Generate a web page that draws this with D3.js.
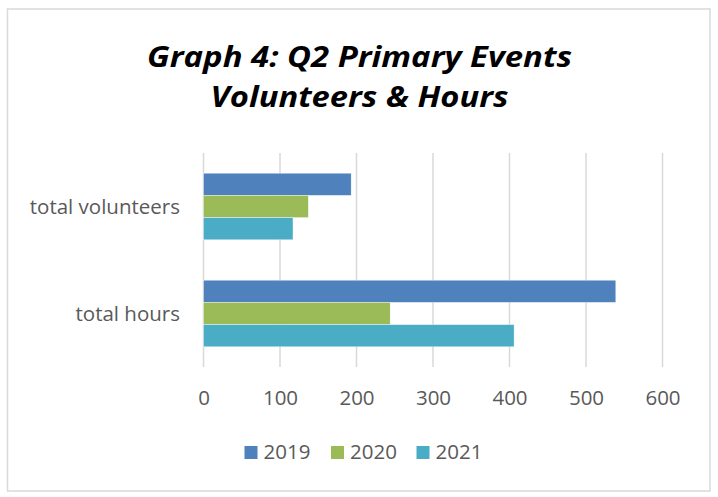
<!DOCTYPE html>
<html>
<head>
<meta charset="utf-8">
<script src="https://cdn.jsdelivr.net/npm/d3@7"></script>
<style>
  body { margin: 0; background: #fff; }
  svg { display: block; }
  text { font-family: "Open Sans", "Liberation Sans", sans-serif; }
</style>
</head>
<body>
<svg id="chart"></svg>
<script>
const WIDTH = 718;
const HEIGHT = 497;

// chart data
const categories = ["total volunteers", "total hours"];
const years = ["2019", "2020", "2021"];
const values2019 = [193, 539];
const values2020 = [137, 244];
const values2021 = [117, 406];
const xTicks = [0, 100, 200, 300, 400, 500, 600];
const titleLines = ["Graph 4: Q2 Primary Events", "Volunteers & Hours"];

const seriesValues = [values2019, values2020, values2021];
const colors = ["#4F81BD", "#9BBB59", "#4BACC6"];

const svg = d3.select("#chart")
    .attr("width", WIDTH)
    .attr("height", HEIGHT);

svg.append("rect")
    .attr("width", WIDTH).attr("height", HEIGHT)
    .attr("fill", "#fff");

// outer border
svg.append("rect")
    .attr("x", 7.5).attr("y", 9)
    .attr("width", 702.5).attr("height", 482)
    .attr("fill", "none")
    .attr("stroke", "#d9d9d9")
    .attr("stroke-width", 1.5);

// title
const titleWidths = [425, 298];
svg.append("g").selectAll("text")
    .data(titleLines)
    .join("text")
    .attr("x", 359.5)
    .attr("y", (d, i) => 66.5 + i * 40)
    .attr("text-anchor", "middle")
    .attr("font-size", 29)
    .attr("font-weight", "bold")
    .attr("font-style", "italic")
    .attr("fill", "#000")
    .attr("textLength", (d, i) => titleWidths[i])
    .attr("lengthAdjust", "spacingAndGlyphs")
    .text(d => d);

const margin = { left: 203.5, right: 718 - 662.5, top: 153, bottom: 497 - 367 };

const x = d3.scaleLinear()
    .domain([0, 600])
    .range([margin.left, WIDTH - margin.right]);

const y = d3.scaleBand()
    .domain(categories)
    .range([margin.top, HEIGHT - margin.bottom])
    .paddingInner(0.377)
    .paddingOuter(0.377 / 2);

const ySub = d3.scaleBand()
    .domain(years)
    .range([0, y.bandwidth()]);

// gridlines
svg.append("g")
    .selectAll("line")
    .data(xTicks)
    .join("line")
    .attr("x1", d => x(d)).attr("x2", d => x(d))
    .attr("y1", margin.top).attr("y2", HEIGHT - margin.bottom)
    .attr("stroke", "#d9d9d9")
    .attr("stroke-width", 1.5);

// bars
const groups = svg.append("g")
    .selectAll("g")
    .data(categories)
    .join("g")
    .attr("transform", d => `translate(0,${y(d)})`);

groups.selectAll("rect")
    .data((c, ci) => years.map((yr, si) => ({ year: yr, value: seriesValues[si][ci], color: colors[si] })))
    .join("rect")
    .attr("x", x(0))
    .attr("y", d => ySub(d.year))
    .attr("width", d => x(d.value) - x(0))
    .attr("height", ySub.bandwidth())
    .attr("fill", d => d.color)
    .attr("stroke", "#fff")
    .attr("stroke-width", 0.4);

// category labels
svg.append("g")
    .selectAll("text")
    .data(categories)
    .join("text")
    .attr("x", 180)
    .attr("y", d => y(d) + y.bandwidth() / 2 + 7)
    .attr("text-anchor", "end")
    .attr("font-size", 20.5)
    .attr("fill", "#595959")
    .text(d => d);

// x axis labels
const xAxis = d3.axisBottom(x)
    .tickValues(xTicks)
    .tickSize(0)
    .tickPadding(0);

const axisG = svg.append("g")
    .attr("transform", `translate(0,${HEIGHT - margin.bottom})`)
    .call(xAxis);
axisG.select(".domain").remove();
axisG.selectAll("text")
    .attr("dy", null)
    .attr("y", 38)
    .attr("font-size", 20.5)
    .attr("font-family", "\"Open Sans\", sans-serif")
    .attr("fill", "#595959");

// legend
const legendX = [244.5, 331, 416.5];
const legend = svg.append("g")
    .selectAll("g")
    .data(years)
    .join("g")
    .attr("transform", (d, i) => `translate(${legendX[i]},446)`);

legend.append("rect")
    .attr("width", 13).attr("height", 13)
    .attr("fill", (d, i) => colors[i]);

legend.append("text")
    .attr("x", 19)
    .attr("y", 13)
    .attr("font-size", 20.5)
    .attr("fill", "#595959")
    .text(d => d);
</script>
</body>
</html>
